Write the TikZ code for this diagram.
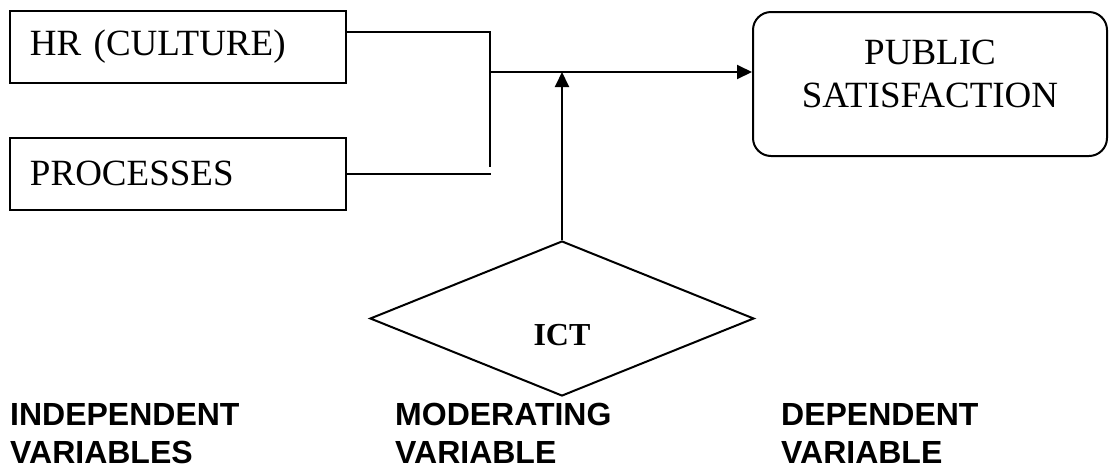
\documentclass[tikz,border=0pt]{standalone}
\usepackage{fontspec}
\setmainfont{Liberation Serif}
\newfontfamily\headfont{Liberation Sans}
\usepackage{tikz}
\usetikzlibrary{shapes.geometric,arrows.meta,calc}
\usetikzlibrary{positioning}

\tikzset{
  varbox/.style={draw, line width=2pt, rectangle, minimum height=72pt, text width=296pt,
    inner xsep=20pt, align=left, font=\fontsize{37}{43}\selectfont},
  outbox/.style={draw, line width=2pt, rounded corners=18pt, minimum width=354pt, minimum height=144pt},
  modbox/.style={draw, line width=2pt, diamond, minimum width=384pt, minimum height=155pt, inner sep=0pt},
  link/.style={line width=2pt},
  arr/.style={line width=2pt, -{Triangle[length=15pt,width=14pt]}},
  caption/.style={font=\headfont\bfseries\fontsize{32}{38}\selectfont, align=left, inner sep=0pt, anchor=base west}
}

\begin{document}
\begin{tikzpicture}[x=1pt,y=-1pt]
            \useasboundingbox (0,0) rectangle (1109,467);
            \node[varbox] at (178,47) (hr) {HR (CULTURE)};
            \node[varbox] at (178,173.5) (proc) {PROCESSES};
            \node[outbox] at (930,84) (sat) {};
            \node[align=center, font=\fontsize{37}{43}\selectfont] at (930,73.5) (sattext) {PUBLIC\\SATISFACTION};
            \node[modbox] at (562,318.5) (ict) {};
            \node[font=\bfseries\fontsize{32}{38}\selectfont] at (562,335.5) (icttext) {ICT};
            \coordinate (hrout) at ($(hr.east)+(0,-15)$);
            \coordinate (vend) at (490,167);
            \coordinate (pend) at (491,173.5);
            \coordinate (join) at (490,72);
            \draw[link] (hrout) -| (vend);
            \draw[link] (proc.east) -- (pend);
            \draw[arr] (join) -- (join -| sat.west);
            \draw[arr] (ict.north) -- (ict.north |- join);
            \node[caption] at (10,463) (indep) {INDEPENDENT\\VARIABLES};
            \node[caption] at (395,463) (moder) {MODERATING\\VARIABLE};
            \node[caption] at (781,463) (dep) {DEPENDENT\\VARIABLE};
        \end{tikzpicture}
\end{document}
